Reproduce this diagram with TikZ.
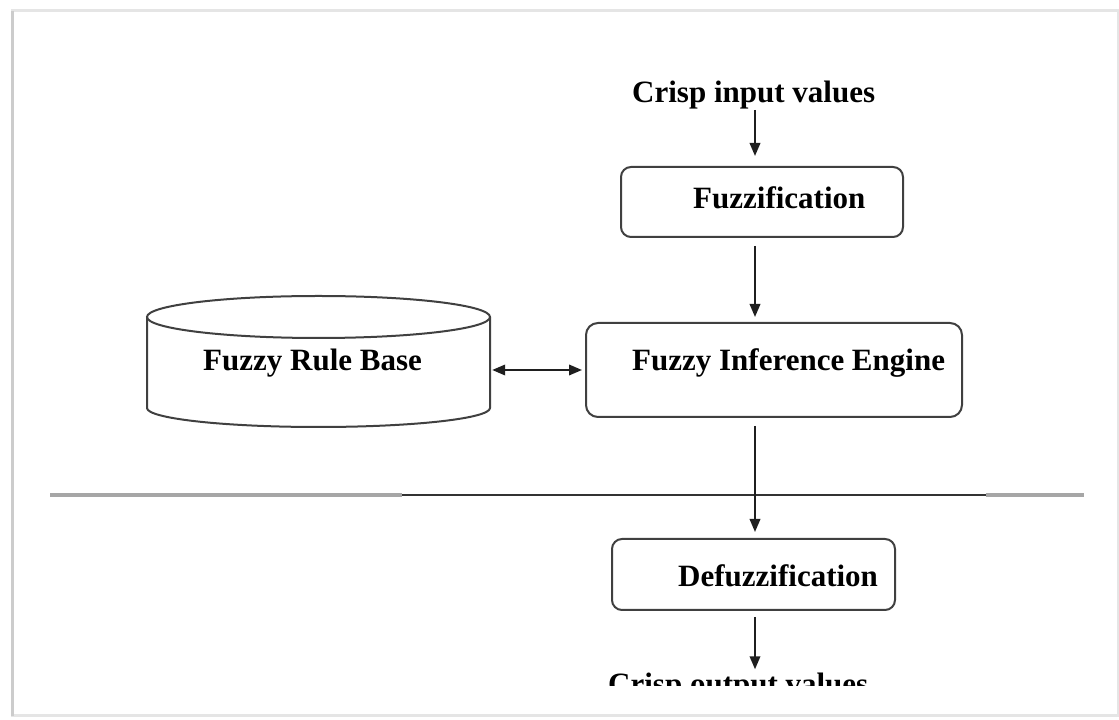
\documentclass[tikz,border=0pt]{standalone}
\usepackage{fontspec}
\setmainfont{Liberation Serif}
\usetikzlibrary{arrows.meta}
\begin{document}
\begin{tikzpicture}[x=1pt,y=1pt,
  boxline/.style={draw=black!75, line width=2pt},
  stagebox/.style={boxline, rounded corners=10pt, inner sep=0pt},
  txt/.style={anchor=base west, inner sep=0pt, font=\fontsize{31}{36}\selectfont\bfseries},
  tip/.tip={Triangle[length=13pt,width=10.5pt]},
  flow/.style={draw=black!88, line width=2pt, -tip},
  flowboth/.style={draw=black!88, line width=2pt, tip-tip},
]
\useasboundingbox (0,0) rectangle (1119,720);

% page frame
\draw[gray!20, line width=3pt] (12,4) rectangle (1118,709);
\draw[gray!40, line width=3.5pt] (12.5,4) -- (12.5,709);

% separator line
\draw[gray!70, line width=3.2pt] (50,225) -- (402,225);
\draw[black!80, line width=1.6pt] (402,225) -- (986,225);
\draw[gray!70, line width=3.2pt] (986,225) -- (1084,225);

% vertical axis of the processing chain
\coordinate (axis) at (755,0);

% processing stages
\node[stagebox, minimum width=282pt, minimum height=70pt] (fz) at (762,518) {};
\node[txt] (fzt) at (693,511) {Fuzzification};

\node[stagebox, rounded corners=12pt, minimum width=376pt, minimum height=94pt] (fie) at (774,350) {};
\node[txt] (fiet) at (632,349) {Fuzzy Inference Engine};

\node[stagebox, minimum width=283pt, minimum height=71pt] (dz) at (753.5,145.5) {};
\node[txt] (dzt) at (678,133) {Defuzzification};

% rule base drum
\node[inner sep=0pt, minimum width=343pt, minimum height=131pt] (rb) at (318.5,358.5) {};
\draw[boxline] (147,403) -- (147,312)
  arc[start angle=180, end angle=360, x radius=171.5pt, y radius=19pt] -- (490,403);
\draw[boxline] (318.5,403) ellipse [x radius=171.5pt, y radius=21pt];
\node[txt] (rbt) at (203,349) {Fuzzy Rule Base};

% input and output labels
\node[txt] (cin) at (632,617) {Crisp input values};
\begin{scope}
  \clip (0,34) rectangle (1119,720);
  \node[txt] (cout) at (608,25.5) {Crisp output values};
\end{scope}

% connectors
\draw[flow, shorten >=10pt] (cin.south -| axis) -- (fz.north -| axis);
\draw[flow, shorten <=8pt, shorten >=5pt] (fz.south -| axis) -- (fie.north -| axis);
\draw[flow, shorten <=8pt, shorten >=6pt] (fie.south -| axis) -- (dz.north -| axis);
\draw[flow, shorten <=6pt, shorten >=3.5pt] (dz.south -| axis) -- (cout.north -| axis);
\draw[flowboth, shorten <=2pt, shorten >=3pt] (rb.east |- fie.west) -- (fie.west);
\end{tikzpicture}
\end{document}
